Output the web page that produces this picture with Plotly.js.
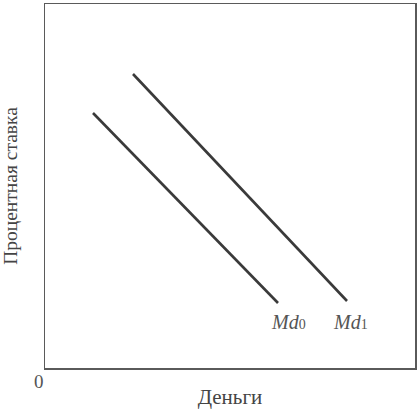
<!DOCTYPE html>
<html>
<head>
<meta charset="utf-8">
<script src="https://cdn.plot.ly/plotly-3.0.1.min.js"></script>
<style>html,body{margin:0;padding:0;background:#fff;}#chart{width:419px;height:409px;}</style>
</head>
<body>
<div id="chart"></div>
<script>
// Money demand curves (money on x, interest rate on y)
const md0Money = [48, 233];
const md0Rate = [255, 65];
const md1Money = [88, 302];
const md1Rate = [294, 67];
const curveLabels = ["Md0", "Md1"];
const xTitle = "Деньги";
const yTitle = "Процентная ставка";
const originLabel = "0";

const lineStyle = {color: '#3a3a3a', width: 2.6};
const traces = [
  {x: md0Money, y: md0Rate, mode: 'lines', line: lineStyle, name: curveLabels[0], hoverinfo: 'skip'},
  {x: md1Money, y: md1Rate, mode: 'lines', line: lineStyle, name: curveLabels[1], hoverinfo: 'skip'}
];
function fmt(lbl) {
  return '<i>' + lbl.slice(0, 2) + '</i><span style="font-size:14px">' + lbl.slice(2) + '</span>';
}
const serif = 'Liberation Serif';
const layout = {
  width: 419, height: 409,
  margin: {l: 45, r: 4, t: 4, b: 41},
  paper_bgcolor: '#fff', plot_bgcolor: '#fff',
  showlegend: false,
  font: {family: serif},
  xaxis: {range: [0, 370], showgrid: false, zeroline: false, showticklabels: false, ticks: '',
    showline: true, mirror: true, linecolor: '#5a5a5a', linewidth: 1.5, fixedrange: true,
    title: {text: xTitle, font: {family: serif, size: 21, color: '#444'}, standoff: 21}},
  yaxis: {range: [0, 364], showgrid: false, zeroline: false, showticklabels: false, ticks: '',
    showline: true, mirror: true, linecolor: '#5a5a5a', linewidth: 1.5, fixedrange: true,
    title: {text: yTitle, font: {family: serif, size: 19.5, color: '#444'}, standoff: 27}},
  annotations: [
    {x: md0Money[1] + 10, y: 46, xref: 'x', yref: 'y', text: fmt(curveLabels[0]), showarrow: false,
      font: {family: serif, size: 20, color: '#555'}},
    {x: md1Money[1] + 3, y: 46, xref: 'x', yref: 'y', text: fmt(curveLabels[1]), showarrow: false,
      font: {family: serif, size: 20, color: '#555'}},
    {x: -0.015, y: -0.036, xref: 'paper', yref: 'paper', xanchor: 'center', yanchor: 'middle',
      text: originLabel, showarrow: false, font: {family: serif, size: 19, color: '#555'}}
  ]
};
Plotly.newPlot('chart', traces, layout, {staticPlot: true, displayModeBar: false});
</script>
</body>
</html>
